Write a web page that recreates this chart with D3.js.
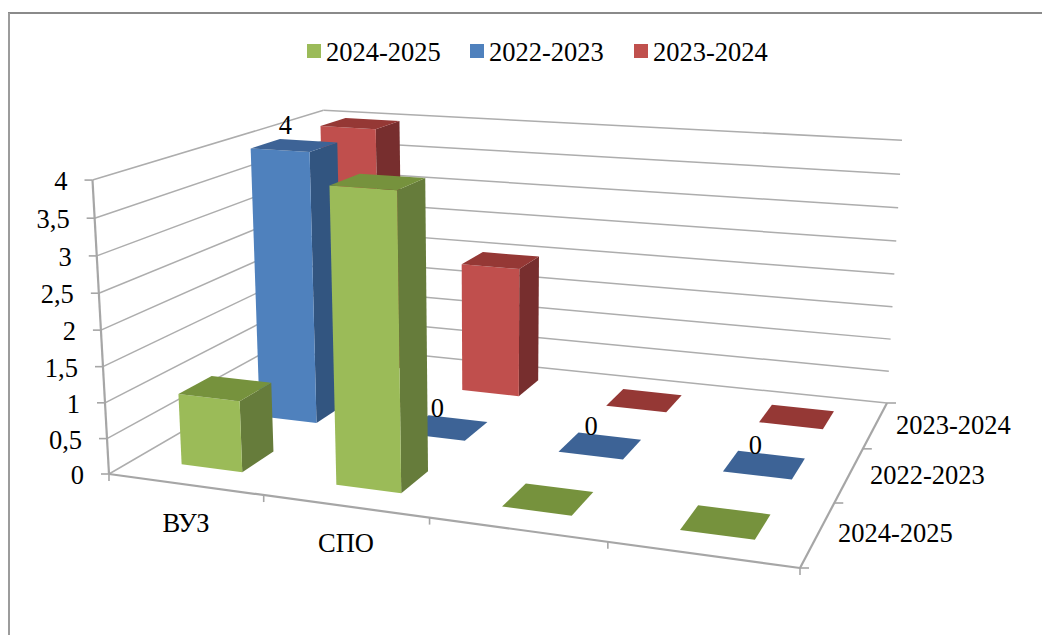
<!DOCTYPE html>
<html>
<head>
<meta charset="utf-8">
<script src="https://cdn.jsdelivr.net/npm/d3@7"></script>
<style>
  html, body { margin: 0; padding: 0; background: #fff; }
  text { font-family: "Liberation Serif", serif; font-size: 26.5px; fill: #000; }
</style>
</head>
<body>
<svg id="chart" width="1042" height="635" style="display:block"></svg>
<script>
var categories = ['ВУЗ', 'СПО', '', ''];
var seriesNames = ['2024-2025', '2022-2023', '2023-2024']; // front to back
var values2425 = [1, 4, 0, 0];
var values2223 = [4, 0, 0, 0];
var values2324 = [4, 2, 0, 0];
var valueTicks = [0, 0.5, 1, 1.5, 2, 2.5, 3, 3.5, 4];
var blueLabels = [4, 0, 0, 0];

var seriesValues = [values2425, values2223, values2324];
var colors = [
  { front: '#9bbb59', side: '#667b3a', top: '#76923c' },
  { front: '#4f81bd', side: '#335580', top: '#3d6496' },
  { front: '#c0504d', side: '#772f2d', top: '#953735' }
];

var svg = d3.select('#chart');

var defs = svg.append('defs');
defs.append('filter').attr('id', 'soft').append('feGaussianBlur').attr('stdDeviation', 0.5);

// floor of the box on the page: front-left, front-right, back-right, back-left
var floorCorners = [[109, 474], [800, 568], [887, 403], [329, 346]];
var vanish = [493, 7314]; // where the upright edges meet
var lift = -0.0412; // fixes the height of the value axis

// unit square -> floor quad, homogeneous
function quadMap(q) {
  var x0 = q[0][0], y0 = q[0][1], x1 = q[1][0], y1 = q[1][1],
    x2 = q[2][0], y2 = q[2][1], x3 = q[3][0], y3 = q[3][1];
  var dx1 = x1 - x2, dx2 = x3 - x2, sx = x0 - x1 + x2 - x3,
    dy1 = y1 - y2, dy2 = y3 - y2, sy = y0 - y1 + y2 - y3;
  var den = dx1 * dy2 - dx2 * dy1;
  var g = (sx * dy2 - dx2 * sy) / den, h = (dx1 * sy - sx * dy1) / den;
  var a = x1 - x0 + g * x1, b = x3 - x0 + h * x3,
    d = y1 - y0 + g * y1, e = y3 - y0 + h * y3;
  return function(u, v) {
    return [a * u + b * v + x0, d * u + e * v + y0, g * u + h * v + 1];
  };
}
var floorMap = quadMap(floorCorners);

var xBand = d3.scaleBand().domain(d3.range(categories.length)).range([0.002, 1.002]).paddingInner(0.6).paddingOuter(0.3);
var zBand = d3.scaleBand().domain(d3.range(seriesNames.length)).range([0, 1]).paddingInner(0.6).paddingOuter(0.3);
var xStep = d3.scaleLinear().domain([0, categories.length]).range([0, 1]);
var zStep = d3.scaleLinear().domain([0, seriesNames.length]).range([0, 1]);
var yScale = d3.scaleLinear().domain([0, 4]).range([0, 1]);

function project(u, v, val) {
  var f = floorMap(u, v), k = lift * yScale(val);
  var w = f[2] + k;
  return [(f[0] + k * vanish[0]) / w, (f[1] + k * vanish[1]) / w];
}

var line = d3.line();
var axisColor = '#a6a6a6', gridColor = '#adadad';

var lines = svg.append('g').attr('filter', 'url(#soft)');
function seg(p, q, color, w) {
  lines.append('path').attr('d', line([p, q])).attr('fill', 'none')
    .attr('stroke', color).attr('stroke-width', w);
}

// chart frame, only top and left are in the picture
seg([8, 13], [1042, 13], '#8a8a8a', 2);
seg([9, 13], [9, 635], '#9c9c9c', 2);

// walls
valueTicks.forEach(function(t) {
  seg(project(0, 0, t), project(0, 1, t), gridColor, 1.5);
  seg(project(0, 1, t), project(1, 1, t), gridColor, 1.5);
});

// axes
seg(project(0, 0, 0), project(0, 0, 4), axisColor, 2.2);
seg(project(0, 0, 0), project(1, 0, 0), axisColor, 2.2);
seg(project(1, 0, 0), project(1, 1, 0), axisColor, 2.2);

valueTicks.forEach(function(t) {
  var p = project(0, 0, t);
  seg([p[0] - 8, p[1]], p, axisColor, 1.6);
  svg.append('text').attr('x', p[0] - 25).attr('y', p[1] + 10)
    .attr('text-anchor', 'end').text(String(t).replace('.', ','));
});

d3.range(categories.length + 1).forEach(function(i) {
  var p = project(xStep(i), 0, 0);
  seg(p, [p[0], p[1] + 7], axisColor, 1.6);
});

d3.range(seriesNames.length + 1).forEach(function(i) {
  var p = project(1, zStep(i), 0);
  seg(p, [p[0] + 9, p[1]], axisColor, 1.6);
});

// bars, back row first
var bars = svg.append('g').attr('filter', 'url(#soft)');
d3.range(seriesNames.length).reverse().forEach(function(s) {
  categories.forEach(function(c, i) {
    var val = seriesValues[s][i];
    var u0 = xBand(i), u1 = u0 + xBand.bandwidth();
    var v0 = zBand(s), v1 = v0 + zBand.bandwidth();
    var g = bars.append('g').attr('class', 'bar');
    var face = function(pts, fill) {
      g.append('path').attr('d', line(pts) + 'Z').attr('fill', fill);
    };
    if (val > 0) {
      face([project(u1, v0, 0), project(u1, v1, 0), project(u1, v1, val), project(u1, v0, val)], colors[s].side);
      face([project(u0, v0, 0), project(u1, v0, 0), project(u1, v0, val), project(u0, v0, val)], colors[s].front);
    }
    face([project(u0, v0, val), project(u1, v0, val), project(u1, v1, val), project(u0, v1, val)], colors[s].top);
  });
});

// data labels, blue series only
blueLabels.forEach(function(d, i) {
  var u = xBand(i) + xBand.bandwidth() / 2, v = zBand(1) + zBand.bandwidth() / 2;
  var p = project(u, v, seriesValues[1][i]);
  svg.append('text').attr('x', p[0] - 9).attr('y', p[1] - 11)
    .attr('text-anchor', 'middle').text(d);
});

// category labels
var catLabelAt = [[186, 532], [346, 552]];
categories.slice(0, 2).forEach(function(c, i) {
  svg.append('text').attr('x', catLabelAt[i][0]).attr('y', catLabelAt[i][1])
    .attr('text-anchor', 'middle').text(c);
});

// depth labels
var depthLabelAt = [[838, 542], [870, 484], [896, 434]];
seriesNames.forEach(function(n, i) {
  svg.append('text').attr('x', depthLabelAt[i][0]).attr('y', depthLabelAt[i][1]).text(n);
});

// legend
var legendAt = [307, 470, 634];
seriesNames.forEach(function(n, i) {
  svg.append('rect').attr('x', legendAt[i]).attr('y', 44).attr('width', 14).attr('height', 14)
    .attr('fill', colors[i].front);
  svg.append('text').attr('x', legendAt[i] + 19).attr('y', 61).text(n);
});
</script>
</body>
</html>
